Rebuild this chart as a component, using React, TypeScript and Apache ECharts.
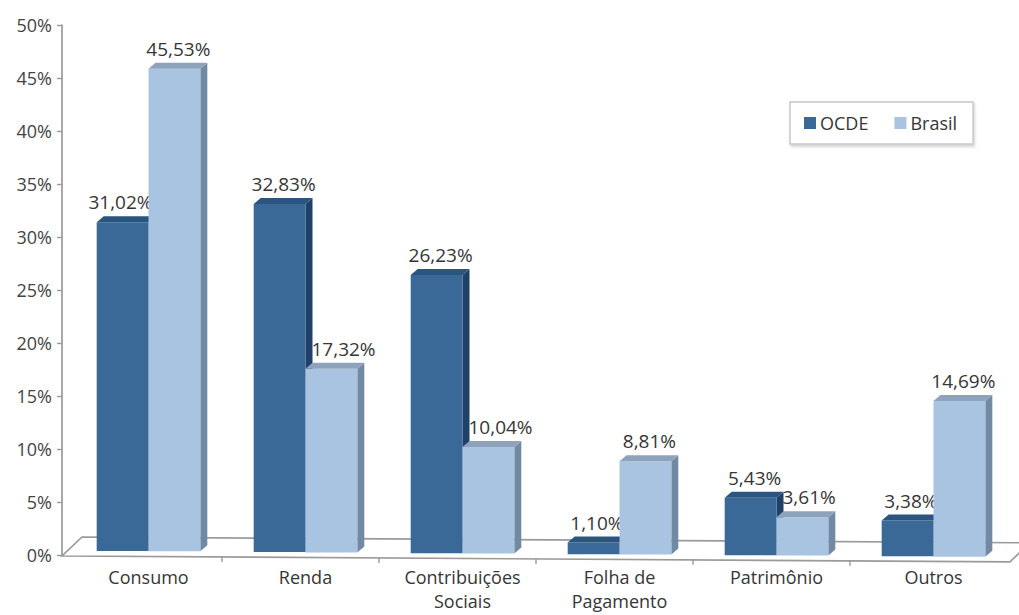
import React, { useEffect, useRef } from "react";
import * as echarts from "echarts";

// Tax burden composition, OECD average vs Brazil (% of total revenue)
const categories = [
  "Consumo",
  "Renda",
  "Contribuições\nSociais",
  "Folha de\nPagamento",
  "Patrimônio",
  "Outros",
];
const seriesNames = ["OCDE", "Brasil"];
const ocde = [31.02, 32.83, 26.23, 1.1, 5.43, 3.38];
const brasil = [45.53, 17.32, 10.04, 8.81, 3.61, 14.69];
const yMin = 0;
const yMax = 50;
const yInterval = 5;

// Layout / look
const FONT = "'Open Sans', 'Noto Sans', sans-serif";
const GRID = { left: 70, right: 7, top: 25, bottom: 60 };
const W = 1019;
const H = 615;
const DEPTH_X = 7; // 3D extrusion of the bars
const DEPTH_Y = -6;
const TILT = 0.0068; // slight perspective slope of the floor
const COLORS = {
  OCDE: { front: "#3a6897", top: "#2a5581", side: "#1f4068" },
  Brasil: { front: "#a9c4e0", top: "#8ea3bb", side: "#7189a2" },
};
const AXIS_GRAY = "#9a9a9a";
const TEXT = "#363636";
const fmt = (v: number) => v.toFixed(2).replace(".", ",") + "%";

function makeRenderItem(side: 0 | 1) {
  const palette = side === 0 ? COLORS.OCDE : COLORS.Brasil;
  return (params: any, api: any) => {
    const i = api.value(0);
    const v = api.value(1);
    const [cx, y0] = api.coord([i, 0]);
    const [, yv] = api.coord([i, v]);
    const catW = api.size([1, 0])[0];
    const w = catW * 0.33;
    const left = side === 0 ? cx - w : cx;
    const shift = -4 + TILT * (left + w / 2 - 123);
    const bottom = y0 + shift;
    const top = yv + shift;
    const right = left + w;

    const topFace = [
      [left, top],
      [left + DEPTH_X, top + DEPTH_Y],
      [right + DEPTH_X, top + DEPTH_Y],
      [right, top],
    ];
    const sideFace = [
      [right, top],
      [right + DEPTH_X, top + DEPTH_Y],
      [right + DEPTH_X, bottom + DEPTH_Y],
      [right, bottom],
    ];

    // value label placement: keep clear of a taller neighbour bar
    const other = side === 0 ? brasil[i] : ocde[i];
    let lx = left + w / 2 + 4;
    let align = "center";
    if (side === 0 && other > v) {
      lx = right + 4;
      align = "right";
    } else if (side === 1 && other > v) {
      lx = left + 6;
      align = "left";
    }
    const ly = top + DEPTH_Y - 14;

    return {
      type: "group",
      children: [
        { type: "polygon", shape: { points: sideFace }, style: { fill: palette.side } },
        {
          type: "rect",
          shape: { x: left, y: top, width: w, height: bottom - top },
          style: { fill: palette.front },
        },
        { type: "polygon", shape: { points: topFace }, style: { fill: palette.top } },
        {
          type: "text",
          z2: 10,
          style: {
            text: fmt(v),
            x: lx,
            y: ly,
            align,
            verticalAlign: "middle",
            fontFamily: FONT,
            fontSize: 19,
            fill: TEXT,
          },
        },
      ],
    };
  };
}

// Floor of the 3D plot area, drawn under the bars
function floorGraphics() {
  const x0 = GRID.left - 8;
  const y0 = H - GRID.bottom + 1;
  const xEnd = 1010;
  const fy = (x: number) => y0 + (x - x0) * TILT * 0.9;
  const dx = 20;
  const dy = -19;
  const lineStyle = { stroke: AXIS_GRAY, lineWidth: 1.7, fill: null };
  const catW = (W - GRID.left - GRID.right) / categories.length;
  const ticks = [];
  for (let k = 1; k < categories.length; k++) {
    const tx = GRID.left + catW * k - 5;
    ticks.push({
      type: "line",
      shape: { x1: tx, y1: fy(tx), x2: tx, y2: fy(tx) + 5 },
      style: { stroke: AXIS_GRAY, lineWidth: 1.4 },
    });
  }
  return [
    {
      type: "group",
      z: 1,
      children: [
        {
          type: "polyline",
          shape: {
            points: [
              [xEnd + dx, fy(xEnd) + dy],
              [x0 + dx, fy(x0) + dy],
              [x0, fy(x0)],
              [xEnd, fy(xEnd)],
              [xEnd + dx, fy(xEnd) + dy],
            ],
          },
          style: lineStyle,
        },
        ...ticks,
      ],
    },
  ];
}

export default function App() {
  const ref = useRef<HTMLDivElement>(null);

  useEffect(() => {
    if (!ref.current) return;
    const chart = echarts.init(ref.current, null, { renderer: "svg" });
    chart.setOption({
      animation: false,
      backgroundColor: "#ffffff",
      grid: { ...GRID, containLabel: false },
      legend: {
        data: seriesNames.map((name, k) => ({
          name,
          icon: "rect",
          itemStyle: { color: k === 0 ? COLORS.OCDE.front : COLORS.Brasil.front },
        })),
        left: 790,
        top: 102,
        orient: "horizontal",
        itemWidth: 12,
        itemHeight: 12,
        itemGap: 26,
        padding: [12, 16, 12, 14],
        borderColor: "#c8c8c8",
        borderWidth: 1.5,
        backgroundColor: "#ffffff",
        shadowColor: "rgba(0,0,0,0.18)",
        shadowBlur: 3,
        shadowOffsetX: 1,
        shadowOffsetY: 2,
        textStyle: { fontFamily: FONT, fontSize: 18, color: TEXT, padding: [0, 0, 0, -1] },
        selectedMode: false,
      },
      xAxis: {
        type: "category",
        data: categories,
        axisLine: { show: false },
        axisTick: { show: false },
        axisLabel: {
          margin: 10,
          fontFamily: FONT,
          fontSize: 18,
          lineHeight: 24,
          color: TEXT,
          interval: 0,
        },
      },
      yAxis: {
        type: "value",
        min: yMin,
        max: yMax,
        interval: yInterval,
        offset: 8,
        axisLine: { show: true, lineStyle: { color: AXIS_GRAY, width: 1.7 } },
        axisTick: { show: true, length: 5, lineStyle: { color: AXIS_GRAY, width: 1.4 } },
        splitLine: { show: false },
        axisLabel: {
          margin: 10,
          fontFamily: FONT,
          fontSize: 18,
          color: "#444444",
          formatter: (v: number) => `${v}%`,
        },
      },
      graphic: floorGraphics(),
      series: [
        {
          name: seriesNames[0],
          type: "custom",
          z: 2,
          itemStyle: { color: COLORS.OCDE.front },
          encode: { x: 0, y: 1 },
          data: ocde.map((v, i) => [i, v]),
          renderItem: makeRenderItem(0),
        },
        {
          name: seriesNames[1],
          type: "custom",
          z: 3,
          itemStyle: { color: COLORS.Brasil.front },
          encode: { x: 0, y: 1 },
          data: brasil.map((v, i) => [i, v]),
          renderItem: makeRenderItem(1),
        },
      ],
    });
    return () => chart.dispose();
  }, []);

  return (
    <div
      ref={ref}
      style={{ position: "absolute", left: 0, top: 0, width: W, height: H, background: "#fff" }}
    />
  );
}
